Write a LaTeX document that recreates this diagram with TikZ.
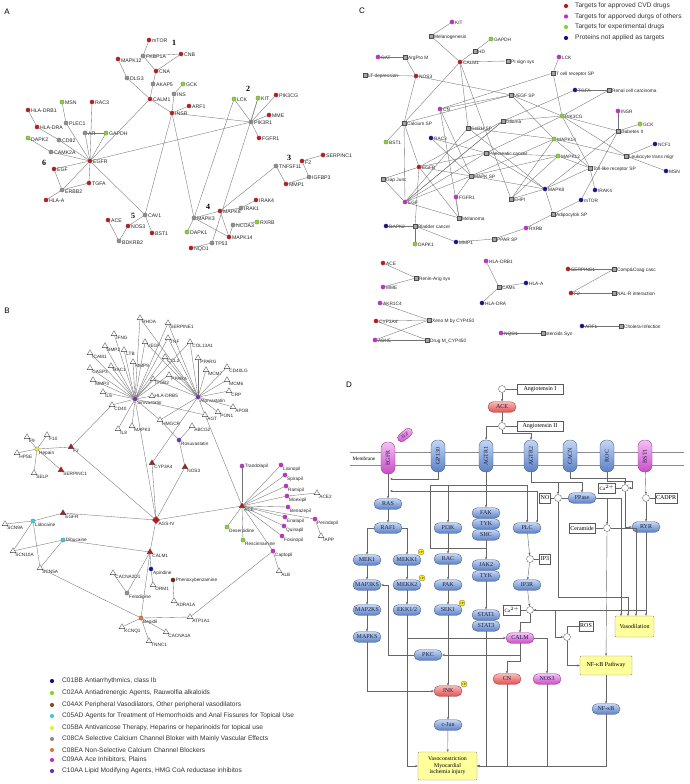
\documentclass[tikz,border=0pt]{standalone}
\usepackage{fontspec}
\newfontfamily\fsans{Liberation Sans}
\newfontfamily\fserif{Liberation Serif}
\usetikzlibrary{shapes.geometric,shapes.misc,arrows.meta}
\definecolor{cred}{HTML}{C81414}
\definecolor{cgry}{HTML}{8E8E8E}
\definecolor{cgrn}{HTML}{86D52A}
\definecolor{cblu}{HTML}{10109A}
\definecolor{cmag}{HTML}{CC2ACC}
\definecolor{cpur}{HTML}{7030C0}
\definecolor{ccya}{HTML}{3CCCDA}
\definecolor{cyel}{HTML}{EEEE30}
\definecolor{cbrn}{HTML}{7A1E10}
\definecolor{cbrl}{HTML}{8B4A20}
\definecolor{corg}{HTML}{E07838}
\definecolor{pbtop}{HTML}{C4D6F4}
\definecolor{pbbot}{HTML}{5C80C4}
\definecolor{prtop}{HTML}{F8B8B8}
\definecolor{prbot}{HTML}{E25050}
\definecolor{pmtop}{HTML}{F6C0F6}
\definecolor{pmbot}{HTML}{C84CC8}
\definecolor{ptxt}{HTML}{1A2240}
\definecolor{ybox}{HTML}{FFFF9C}
\newcommand\lfa{\fsans\fontsize{5.2}{5.5}\selectfont}
\newcommand\lfb{\fsans\fontsize{4.7}{5}\selectfont}
\newcommand\lfc{\fsans\fontsize{4.8}{5}\selectfont}
\newcommand\lfleg{\fsans\fontsize{6.6}{7}\selectfont}
\newcommand\lfd{\fserif\fontsize{6}{6.6}\selectfont}
\begin{document}
\begin{tikzpicture}[x=1pt,y=-1pt,
  dot/.style={circle,inner sep=0pt,minimum size=4.4pt,draw=black!55,line width=0.2pt},
  rdot/.style={dot,fill=cred}, ydot/.style={dot,fill=cgry}, gdot/.style={dot,fill=cgrn},
  bdot/.style={dot,fill=cblu}, mdot/.style={dot,fill=cmag}, pdot/.style={dot,fill=cpur},
  cdot/.style={dot,fill=ccya}, yedot/.style={dot,fill=cyel}, brdot/.style={dot,fill=cbrn},
  odot/.style={dot,fill=corg},
  tri/.style={regular polygon,regular polygon sides=3,draw=black!75,fill=white,inner sep=0pt,minimum size=6.5pt,line width=0.3pt},
  rtri/.style={tri,fill=cred},
  sq/.style={rectangle,draw=black!70,fill=black!35,minimum size=4.2pt,inner sep=0pt,line width=0.3pt},
  la/.style={font=\lfa,inner sep=0.6pt,text=black!85},
  lb/.style={font=\lfb,inner sep=0.4pt,text=black!85},
  lc/.style={font=\lfc,inner sep=0.6pt,text=black!85},
  lr/.style={label={[la,yshift=-1.2pt]right:#1}},
  lbr/.style={label={[lb]below right:#1}},
  lcr/.style={label={[lc,yshift=-1.2pt]right:#1}},
  ed/.style={draw=black!55,line width=0.35pt},
  num/.style={font=\fserif\bfseries\fontsize{8}{8}\selectfont,inner sep=0pt},
  plab/.style={font=\fsans\fontsize{8}{8}\selectfont,inner sep=0pt},
  pill/.style={rectangle,rounded corners=5.2pt,minimum width=28pt,minimum height=10.5pt,inner sep=0.5pt,font=\lfd,line width=0.35pt,text=ptxt},
  bp/.style={pill,top color=pbtop,bottom color=pbbot,draw=pbbot!70!black},
  rp/.style={pill,top color=prtop,bottom color=prbot,draw=prbot!70!black},
  mp/.style={pill,top color=pmtop,bottom color=pmbot,draw=pmbot!70!black},
  vb/.style={bp,rotate=90,minimum width=32pt,minimum height=14pt,rounded corners=6.5pt},
  vm/.style={mp,rotate=90,minimum width=32pt,minimum height=14pt,rounded corners=6.5pt},
  bx/.style={rectangle,draw=black!65,fill=white,font=\lfd,inner sep=1.2pt,minimum height=10pt,line width=0.35pt},
  cc/.style={circle,draw=black!65,fill=white,minimum size=7pt,inner sep=0pt,line width=0.35pt},
  yb/.style={rectangle,rounded corners=1pt,draw=black!45,fill=ybox,font=\lfd,align=center,inner sep=1pt},
  pp/.style={circle,fill=yellow,draw=black!50,minimum size=6pt,inner sep=0pt,font=\fsans\fontsize{3}{3}\selectfont},
  ln/.style={draw=black!60,line width=0.4pt},
  ar/.style={ln,-{Stealth[length=2.6pt,width=2.2pt]}},
  memb/.style={draw=black!45,line width=0.6pt}
]
\useasboundingbox (0,0) rectangle (689,784);
\fill[white] (0,0) rectangle (689,784);

% ================= Panel A =================
\node[plab] (pA) at (7,12) {A};
\node[rdot,lr=mTOR] (aMTOR) at (149,40) {};
\node[ydot,lr=FKBP1A] (aFKBP) at (143,56) {};
\node[rdot,lr=CNB] (aCNB) at (181,54) {};
\node[rdot,lr=MAPK12] (aMAPK12) at (118,59) {};
\node[rdot,lr=CNA] (aCNA) at (156,71) {};
\node[ydot,lr=DLG3] (aDLG3) at (127,78) {};
\node[ydot,lr=AKAP5] (aAKAP5) at (153,84) {};
\node[gdot,lr=GCK] (aGCK) at (183,84) {};
\node[ydot,lr=INS] (aINS) at (174,94) {};
\node[rdot,lr=CALM1] (aCALM1) at (150,99) {};
\node[rdot,lr=ARF1] (aARF1) at (189,106) {};
\node[rdot,lr=INSR] (aINSR) at (172,113) {};
\node[gdot,lr=LCK] (aLCK) at (234,99) {};
\node[gdot,lr=KIT] (aKIT) at (258,98) {};
\node[rdot,lr=PIK3CG] (aPIK3CG) at (276,95) {};
\node[rdot,lr=MME] (aMME) at (269,115) {};
\node[ydot,lr=PIK3R1] (aPIK3R1) at (251,122) {};
\node[rdot,lr=FGFR1] (aFGFR1) at (259,138) {};
\node[gdot,lr=MSN] (aMSN) at (62,102) {};
\node[rdot,lr=RAC3] (aRAC3) at (92,102) {};
\node[rdot,lr=HLA-DRB1] (aDRB1) at (28,110) {};
\node[rdot,lr=HLA-DRA] (aDRA) at (37,127) {};
\node[ydot,lr=PLEC1] (aPLEC1) at (66,123) {};
\node[ydot,lr=AR] (aAR) at (85,133) {};
\node[gdot,lr=GAPDH] (aGAPDH) at (106,133) {};
\node[gdot,lr=DAPK2] (aDAPK2) at (28,138) {};
\node[ydot,lr=CD82] (aCD82) at (59,140) {};
\node[ydot,lr=CAMK2A] (aCAMK2A) at (51,152) {};
\node[rdot,lr=EGFR] (aEGFR) at (90,161) {};
\node[rdot,lr=EGF] (aEGF) at (54,169) {};
\node[rdot,lr=TGFA] (aTGFA) at (89,183) {};
\node[ydot,lr=ERBB2] (aERBB2) at (62,190) {};
\node[rdot,lr=HLA-A] (aHLAA) at (46,200) {};
\node[ydot,lr=TNFSF11] (aTNFSF11) at (276,166) {};
\node[rdot,lr=F2] (aF2) at (302,161) {};
\node[rdot,lr=SERPINC1] (aSERPINC1) at (323,155) {};
\node[ydot,lr=IGFBP3] (aIGFBP3) at (309,177) {};
\node[rdot,lr=MMP1] (aMMP1) at (286,184) {};
\node[rdot,lr=IRAK4] (aIRAK4) at (256,200) {};
\node[ydot,lr=IRAK1] (aIRAK1) at (241,208) {};
\node[rdot,lr=MAPK8] (aMAPK8) at (220,211) {};
\node[ydot,lr=MAPK3] (aMAPK3) at (194,218) {};
\node[ydot,lr=NCOA3] (aNCOA3) at (233,225) {};
\node[gdot,lr=RXRB] (aRXRB) at (257,222) {};
\node[gdot,lr=DAPK1] (aDAPK1) at (187,232) {};
\node[rdot,lr=MAPK14] (aMAPK14) at (229,237) {};
\node[ydot,lr=TP53] (aTP53) at (212,243) {};
\node[rdot,lr=NQO1] (aNQO1) at (191,248) {};
\node[ydot,lr=CAV1] (aCAV1) at (145,215) {};
\node[rdot,lr=ACE] (aACE) at (108,220) {};
\node[rdot,lr=NOS3] (aNOS3) at (128,226) {};
\node[rdot,lr=BST1] (aBST1) at (152,233) {};
\node[ydot,lr=BDKRB2] (aBDKRB2) at (119,241) {};
\node[num] (n1) at (174,43) {1};
\node[num] (n2) at (248,89) {2};
\node[num] (n3) at (289,158) {3};
\node[num] (n4) at (208,207) {4};
\node[num] (n5) at (133,216) {5};
\node[num] (n6) at (44,163) {6};
\foreach \u/\v in {aMTOR/aFKBP,aFKBP/aCNB,aFKBP/aCNA,aCNB/aCNA,aCNA/aAKAP5,aAKAP5/aCALM1,
  aMAPK12/aDLG3,aDLG3/aCALM1,aGCK/aINS,aINS/aINSR,aCALM1/aINSR,aARF1/aINSR,aINSR/aPIK3R1,
  aCALM1/aEGFR,aINSR/aCAV1,aINSR/aMAPK3,aLCK/aPIK3R1,aKIT/aPIK3R1,aPIK3CG/aPIK3R1,aMME/aPIK3R1,
  aFGFR1/aPIK3R1,aPIK3R1/aEGFR,aLCK/aMAPK3,aKIT/aTP53,aMSN/aPLEC1,aPLEC1/aEGFR,aRAC3/aEGFR,
  aAR/aEGFR,aAR/aGAPDH,aGAPDH/aEGFR,aDRB1/aDRA,aDRA/aCD82,aCD82/aEGFR,aDAPK2/aCAMK2A,
  aCAMK2A/aEGFR,aEGF/aEGFR,aEGF/aERBB2,aERBB2/aEGFR,aTGFA/aEGFR,aTGFA/aERBB2,aERBB2/aHLAA,
  aEGFR/aCAV1,aCAV1/aNOS3,aCAV1/aBST1,aNOS3/aBDKRB2,aACE/aBDKRB2,aTNFSF11/aMAPK8,
  aTNFSF11/aMMP1,aF2/aSERPINC1,aF2/aIGFBP3,aIGFBP3/aMMP1,aMAPK8/aIRAK1,aIRAK1/aIRAK4,
  aMAPK8/aMAPK3,aMAPK8/aMAPK14,aMAPK3/aMAPK14,aMAPK3/aDAPK1,aNCOA3/aRXRB,aNCOA3/aMAPK14,
  aTP53/aNQO1}
  \draw[ed] (\u) -- (\v);

% ================= Panel B =================
\node[plab] (pB) at (7,311) {B};
\node[pdot,lbr=Simvastatin] (bSIM) at (135,399) {};
\node[pdot,lbr=Atorvastatin] (bATO) at (198,397) {};
\node[pdot,lbr=Rosuvastatin] (bROS) at (179,440) {};
\node[tri,lbr=RHOA] (bRHOA) at (140,318) {};
\node[tri,lbr=SERPINE1] (bSERPINE1) at (168,323) {};
\node[tri,lbr=IFNG] (bIFNG) at (114,334) {};
\node[tri,lbr=TNF] (bTNF) at (168,338) {};
\node[tri,lbr=BMP2] (bBMP2) at (105,346) {};
\node[tri,lbr=VEGF] (bVEGF) at (145,342) {};
\node[tri,lbr=COL13A1] (bCOL) at (190,342) {};
\node[tri,lbr=LTB] (bLTB) at (124,350) {};
\node[tri,lbr=ICAM1] (bICAM1) at (90,353) {};
\node[tri,lbr=CCL2] (bCCL2) at (165,357) {};
\node[tri,lbr=MMP9] (bMMP9) at (133,362) {};
\node[tri,lbr=PPARG] (bPPARG) at (198,358) {};
\node[tri,lbr=RAC1] (bRAC1) at (111,366) {};
\node[tri,lbr=CASP3] (bCASP3) at (90,368) {};
\node[tri,lbr=CD40LG] (bCD40LG) at (227,367) {};
\node[tri,lbr=MCM7] (bMCM7) at (206,370) {};
\node[tri,lbr=ITGB2] (bITGB2) at (153,379) {};
\node[tri,lbr=PPARA] (bPPARA) at (169,375) {};
\node[tri,lbr=MMP3] (bMMP3) at (93,380) {};
\node[tri,lbr=MCM6] (bMCM6) at (227,380) {};
\node[tri,lbr=IL6] (bIL6) at (103,392) {};
\node[tri,lbr=CRP] (bCRP) at (229,391) {};
\node[tri,label={[lb]right:HLA-DRB5}] (bDRB5) at (152,396) {};
\node[tri,lbr=CD40] (bCD40) at (112,405) {};
\node[tri,lbr=APOB] (bAPOB) at (233,407) {};
\node[tri,lbr=PON1] (bPON1) at (218,412) {};
\node[tri,lbr=AGT] (bAGT) at (205,415) {};
\node[tri,lbr=HMGCR] (bHMGCR) at (160,420) {};
\node[tri,lbr=ABCG2] (bABCG2) at (192,426) {};
\node[tri,lbr=IL8] (bIL8) at (118,429) {};
\node[tri,lbr=MAPK3] (bMAPK3) at (132,426) {};
\node[tri,lbr=F9] (bF9) at (27,437) {};
\node[tri,lbr=F10] (bF10) at (47,435) {};
\node[tri,lbr=HPSE] (bHPSE) at (17,453) {};
\node[tri,lbr=SELP] (bSELP) at (34,473) {};
\node[yedot,lbr=Hepain] (bHEP) at (37,449) {};
\node[rtri,lbr=F2] (bF2) at (71,447) {};
\node[rtri,lbr=SERPINC1] (bSERPINC1) at (61,470) {};
\node[rtri,lbr=CYP3A4] (bCYP) at (152,463) {};
\node[rtri,lbr=NOS3] (bNOS3) at (185,467) {};
\node[mdot,label={[lb]right:Trandolapil}] (bTRA) at (242,466) {};
\node[mdot,lbr=Lisinopil] (bLIS) at (281,465) {};
\node[mdot,lbr=Spirapil] (bSPI) at (285,475) {};
\node[mdot,lbr=Ramipil] (bRAM) at (286,486) {};
\node[mdot,lbr=Moexipil] (bMOE) at (287,496) {};
\node[tri,lbr=ACE2] (bACE2) at (317,493) {};
\node[rtri,lbr=ACE] (bACE) at (242,506) {};
\node[mdot,lbr=Benazepil] (bBEN) at (288,507) {};
\node[mdot,lbr=Enalapil] (bENA) at (285,517) {};
\node[mdot,lbr=Perindopil] (bPER) at (315,519) {};
\node[mdot,lbr=Quinapil] (bQUI) at (284,526) {};
\node[mdot,lbr=Fosinopil] (bFOS) at (282,536) {};
\node[tri,lbr=IAPP] (bIAPP) at (321,536) {};
\node[gdot,lbr=Deserpidine] (bDES) at (227,527) {};
\node[gdot,lbr=Rescinnamine] (bRES) at (243,540) {};
\node[diamond,fill=cred,draw=black!60,inner sep=0pt,minimum size=7.5pt,lbr=AGS-IV] (bAGS) at (156,520) {};
\node[rtri,lbr=EGFR] (bEGFR) at (63,513) {};
\node[cdot,lbr=Lidocaine] (bLID) at (33,521) {};
\node[tri,lbr=SCN9A] (bSCN9A) at (5,524) {};
\node[cdot,label={[lb]right:Dibucaine}] (bDIB) at (63,540) {};
\node[tri,lbr=SCN10A] (bSCN10A) at (13,551) {};
\node[rtri,lbr=CALM1] (bCALM1) at (150,552) {};
\node[tri,lbr=SCN5A] (bSCN5A) at (40,568) {};
\node[bdot,lbr=Apindine] (bAPI) at (151,569) {};
\node[brdot,label={[lb]right:Phenoxybenzamine}] (bPHE) at (173,580) {};
\node[tri,lbr=CACNA2D1] (bCAC2) at (113,573) {};
\node[tri,lbr=ORM1] (bORM1) at (153,585) {};
\node[ydot,lbr=Felodipine] (bFEL) at (127,593) {};
\node[tri,lbr=ADRA1A] (bADRA) at (174,601) {};
\node[mdot,lbr=Captopil] (bCAP) at (273,551) {};
\node[tri,lbr=ALB] (bALB) at (279,571) {};
\node[odot,lbr=Bepidil] (bBEP) at (141,618) {};
\node[tri,lbr=ATP1A1] (bATP) at (190,617) {};
\node[tri,lbr=KCNQ1] (bKCNQ1) at (122,627) {};
\node[tri,lbr=CACNA1A] (bCAC1A) at (166,632) {};
\node[tri,lbr=TNNC1] (bTNNC1) at (149,641) {};
\foreach \t in {bRHOA,bSERPINE1,bIFNG,bTNF,bBMP2,bVEGF,bLTB,bICAM1,bCCL2,bMMP9,bRAC1,bCASP3,
  bITGB2,bPPARA,bMMP3,bIL6,bCD40,bIL8,bMAPK3,bDRB5,bHMGCR,bAGT,bCOL}
  \draw[ed] (bSIM) -- (\t);
\foreach \t in {bRHOA,bSERPINE1,bTNF,bVEGF,bCCL2,bCOL,bPPARG,bMCM7,bCD40LG,bMCM6,bCRP,
  bPPARA,bPON1,bAGT,bHMGCR,bITGB2,bAPOB,bCYP}
  \draw[ed] (bATO) -- (\t);
\foreach \t in {bTRA,bLIS,bSPI,bRAM,bMOE,bBEN,bENA,bPER,bQUI,bFOS,bDES,bRES,bCAP,bAGT,bAGS}
  \draw[ed] (bACE) -- (\t);
\foreach \t in {bF9,bF10,bHPSE,bSELP,bF2,bSERPINC1}
  \draw[ed] (bHEP) -- (\t);
\foreach \t in {bATP,bKCNQ1,bCAC1A,bTNNC1,bSCN5A,bCALM1}
  \draw[ed] (bBEP) -- (\t);
\foreach \u/\v in {bCD40/bF2,bSIM/bAGS,bCYP/bAGS,bHMGCR/bROS,bABCG2/bROS,bROS/bNOS3,bNOS3/bAGS,
  bF2/bAGS,bEGFR/bAGS,bEGFR/bLID,bLID/bSCN9A,bLID/bSCN10A,bLID/bSCN5A,bDIB/bSCN10A,
  bDIB/bSCN5A,bDIB/bCALM1,bAGS/bCALM1,bCALM1/bAPI,bCALM1/bFEL,bFEL/bCAC2,bAPI/bORM1,
  bPHE/bADRA,bATP/bCAP,bCAP/bALB,bMOE/bACE2,bPER/bIAPP}
  \draw[ed] (\u) -- (\v);
% legend B
\foreach \c/\t/\yy [count=\i] in {cblu/C01BB Antiarrhythmics{,} class Ib/681,
  cgrn/C02AA Antiadrenergic Agents{,} Rauwolfia alkaloids/693,
  cbrl/C04AX Peripheral Vasodilators{,} Other peripheral vasodilators/705,
  ccya/C05AD Agents for Treatment of Hemorrhoids and Anal Fissures for Topical Use/716,
  cyel/C05BA Antivaricose Therapy{,} Heparins or heparinoids for topical use/728,
  cgry/C08CA Selective Calcium Channel Bloker with Mainly Vascular Effects/739,
  corg/C08EA Non-Selective Calcium Channel Blockers/750,
  cmag/C09AA Ace Inhibitors{,} Plains/760,
  cpur/C10AA Lipid Modifying Agents{,} HMG CoA reductase inhibitos/771}
  {\node[dot,fill=\c,draw=none,minimum size=4.2pt] (lgb\i) at (52,\yy) {};
   \node[font=\lfleg,anchor=west,inner sep=0pt,text=black!80] (lgbt\i) at (62,\yy) {\t};}

% ================= Panel C =================
\node[plab] (pC) at (362,11) {C};
\foreach \c/\t/\yy [count=\i] in {cred/Targets for approved CVD drugs/6,
  cmag/Targets for apporved durgs of others/16.5,
  cgrn/Targets for experimental drugs/27,
  cblu/Proteins not applied as targets/38}
  {\node[dot,fill=\c,draw=none,minimum size=4.2pt] (lgc\i) at (566,\yy) {};
   \node[font=\lfleg,anchor=west,inner sep=0pt,text=black!80] (lgct\i) at (575,\yy) {\t};}
\node[mdot,lcr=KIT] (cKIT) at (452,22) {};
\node[sq,lcr=Melanogenesis] (cMel) at (431,36) {};
\node[gdot,lcr=GAPDH] (cGAPDH) at (491,39) {};
\node[sq,lcr=HD] (cHD) at (475,51) {};
\node[mdot,lcr=OAT] (cOAT) at (378,57) {};
\node[sq,lcr=ArgPro M] (cArg) at (405,57) {};
\node[rdot,lcr=CALM1] (cCALM1) at (460,62) {};
\node[sq,lcr=PI sign sys] (cPI) at (508,61) {};
\node[mdot,lcr=LCK] (cLCK) at (559,57) {};
\node[sq,lcr=LT depression] (cLT) at (365,75) {};
\node[rdot,lcr=NOS3] (cNOS3) at (416,76) {};
\node[sq,lcr=T cell receptor SP] (cTcell) at (553,73) {};
\node[bdot,lcr=TGFA] (cTGFA) at (575,90) {};
\node[sq,lcr=Renal cell carcinoma] (cRenal) at (609,90) {};
\node[sq,lcr=VEGF SP] (cVEGF) at (511,95) {};
\node[mdot,lcr=CN] (cCN) at (440,109) {};
\node[mdot,lcr=INSR] (cINSR) at (618,111) {};
\node[gdot,lcr=PIK3CG] (cPIK3CG) at (562,116) {};
\node[sq,lcr=Glioma] (cGlioma) at (503,121) {};
\node[sq,lcr=Calcium SP] (cCal) at (404,123) {};
\node[gdot,lcr=GCK] (cGCK) at (640,124) {};
\node[sq,lcr=GnRH SP] (cGnRH) at (468,128) {};
\node[sq,lcr=diabetes II] (cDiab) at (618,131) {};
\node[gdot,lcr=BST1] (cBST1) at (386,142) {};
\node[bdot,lcr=RAC3] (cRAC3) at (431,138) {};
\node[gdot,lcr=MAPK14] (cMAPK14) at (554,139) {};
\node[bdot,lcr=NCF1] (cNCF1) at (655,144) {};
\node[sq,lcr=Pancreatic cancer] (cPanc) at (486,153) {};
\node[gdot,lcr=MAPK12] (cMAPK12) at (558,156) {};
\node[sq,lcr=Leukocyte trans migr] (cLeuko) at (626,156) {};
\node[rdot,lcr=EGFR] (cEGFR) at (419,167) {};
\node[sq,lcr=Toll-like receptor SP] (cToll) at (590,168) {};
\node[bdot,lcr=MSN] (cMSN) at (666,171) {};
\node[sq,lcr=Gap Junc] (cGap) at (383,179) {};
\node[sq,lcr=MAPK SP] (cMAPKSP) at (471,176) {};
\node[bdot,lcr=MAPK8] (cMAPK8) at (545,189) {};
\node[bdot,lcr=IRAK4] (cIRAK4) at (595,190) {};
\node[mdot,lcr=FGFR1] (cFGFR1) at (456,197) {};
\node[mdot,lcr=EGF] (cEGF) at (405,202) {};
\node[sq,lcr=EHPI] (cEHPI) at (511,199) {};
\node[bdot,lcr=mTOR] (cmTOR) at (581,200) {};
\node[sq,lcr=Melanoma] (cMelan) at (459,218) {};
\node[sq,lcr=Adipocytok SP] (cAdipo) at (553,214) {};
\node[bdot,lcr=DAPK2] (cDAPK2) at (386,226) {};
\node[sq,lcr=Bladder cancer] (cBlad) at (415,226) {};
\node[mdot,lcr=RXRB] (cRXRB) at (526,228) {};
\node[sq,lcr=PPAR SP] (cPPAR) at (494,239) {};
\node[bdot,lcr=MMP1] (cMMP1) at (456,242) {};
\node[gdot,lcr=DAPK1] (cDAPK1) at (415,244) {};
\foreach \u/\v in {cKIT/cMel,cMel/cCALM1,cGAPDH/cHD,cHD/cCALM1,cOAT/cArg,cArg/cNOS3,cLT/cNOS3,
  cCALM1/cPI,cLCK/cTcell,cTGFA/cRenal,cNOS3/cCal,cNOS3/cVEGF,cCALM1/cCal,cCALM1/cGnRH,
  cCALM1/cEHPI,cTcell/cCN,cTcell/cPIK3CG,cVEGF/cCN,cVEGF/cPIK3CG,cVEGF/cMAPK14,cVEGF/cCal,
  cTGFA/cGlioma,cRenal/cPIK3CG,cPIK3CG/cGlioma,cPIK3CG/cDiab,cPIK3CG/cPanc,cPIK3CG/cLeuko,
  cPIK3CG/cToll,cINSR/cDiab,cGCK/cDiab,cDiab/cmTOR,cDiab/cMAPK8,cMAPK14/cLeuko,cNCF1/cLeuko,
  cMSN/cLeuko,cToll/cMAPK14,cToll/cMAPK12,cToll/cMAPK8,cToll/cIRAK4,cMAPKSP/cMAPK8,
  cMAPKSP/cEGFR,cMAPKSP/cRAC3,cMAPKSP/cMAPK14,cMAPKSP/cMAPK12,cMAPKSP/cFGFR1,cMAPKSP/cEGF,
  cMAPKSP/cCN,cPanc/cEGFR,cPanc/cRAC3,cPanc/cMAPK8,cPanc/cMAPK12,cGap/cEGFR,cEGFR/cGlioma,
  cEGFR/cMelan,cEGFR/cBlad,cEGF/cGlioma,cEGF/cPanc,cEGF/cMelan,cEGF/cGap,cFGFR1/cMelan,
  cDAPK2/cBlad,cDAPK1/cBlad,cBlad/cMMP1,cMMP1/cPPAR,cPPAR/cRXRB,cRXRB/cAdipo,cAdipo/cmTOR,
  cAdipo/cMAPK8,cEHPI/cMAPK8,cEHPI/cMAPK14,cEHPI/cMAPK12,cBST1/cCal,cCal/cEGFR,cGnRH/cMAPK14,
  cGnRH/cMAPK8,cGnRH/cEGF,cCal/cEGF,cCN/cMelan,cGlioma/cEGF}
  \draw[ed] (\u) -- (\v);
% lower C
\node[rdot,lcr=ACE] (cACE) at (383,263) {};
\node[sq,lcr=Renin-Ang sys] (cRen) at (416,278) {};
\node[mdot,lcr=MME] (cMME) at (383,287) {};
\node[mdot,lcr=HLA-DRB1] (cDRB1) at (486,261) {};
\node[sq,lcr=CAMs] (cCAMs) at (499,287) {};
\node[bdot,lcr=HLA-A] (cHLAA) at (526,283) {};
\node[bdot,lcr=HLA-DRA] (cDRA) at (482,303) {};
\node[rdot,lcr=SERPINC1] (cSERP) at (568,269) {};
\node[sq,lcr=Comp\&Coag casc] (cComp) at (614,269) {};
\node[rdot,lcr=F2] (cF2) at (571,293) {};
\node[sq,lcr=NAL-R interaction] (cNAL) at (614,293) {};
\node[mdot,lcr=AKR1C4] (cAKR) at (380,303) {};
\node[rdot,lcr=CYP3A4] (cCYP) at (376,321) {};
\node[sq,lcr=Xeno M by CYP450] (cXeno) at (429,320) {};
\node[mdot,lcr=ADH5] (cADH5) at (375,340) {};
\node[sq,lcr=Drug M\_CYP450] (cDrug) at (427,340) {};
\node[mdot,lcr=NQO1] (cNQO1) at (501,333) {};
\node[sq,lcr=steroids Syn] (cSter) at (543,333) {};
\node[bdot,lcr=ARF1] (cARF1) at (582,326) {};
\node[sq,lcr=Cholera-Infection] (cChol) at (621,326) {};
\foreach \u/\v in {cACE/cRen,cMME/cRen,cDRB1/cCAMs,cHLAA/cCAMs,cDRA/cCAMs,cSERP/cComp,
  cF2/cComp,cF2/cNAL,cAKR/cXeno,cCYP/cXeno,cCYP/cDrug,cADH5/cXeno,cADH5/cDrug,cNQO1/cSter,
  cARF1/cChol}
  \draw[ed] (\u) -- (\v);

% ================= Panel D =================
\node[plab] (pD) at (349,385) {D};
\draw[memb] (350,452) -- (684,452);
\draw[memb] (350,465) -- (684,465);
\node[font=\fserif\fontsize{5.2}{5.5}\selectfont,fill=white,inner sep=0.3pt] (dMem) at (364,458.5) {Membrane};
\node[bx,minimum width=46pt] (dAngI) at (540,389) {Angiotensin I};
\node[cc] (dC1) at (502,389) {};
\node[rp] (dACE) at (502,407) {ACE};
\node[cc] (dC2) at (502,426) {};
\node[bx,minimum width=46pt] (dAngII) at (540,426) {Angiotensin II};
\node[vm] (dEGFR) at (388,458) {EGFR};
\node[mp,rotate=40,minimum width=17pt,minimum height=8pt,rounded corners=4pt,inner sep=0.2pt,font=\fserif\fontsize{4.3}{5}\selectfont] (dEGF) at (405,435) {EGF};
\node[vb] (dGP130) at (438,456) {GP130};
\node[vb] (dAGTR1) at (486,456) {AGTR1};
\node[vb] (dAGTR2) at (531,456) {AGTR2};
\node[vb] (dCACN) at (570,456) {CACN};
\node[vb] (dROC) at (607,456) {ROC};
\node[vm] (dBST1) at (645,456) {BST1};
\node[bp] (dRAS) at (388,504) {RAS};
\node[bp] (dRAF1) at (388,528) {RAF1};
\node[bp] (dPI3K) at (448,528) {PI3K};
\node[bp] (dFAK) at (486,513) {FAK};
\node[bp] (dTYK1) at (486,524) {TYK};
\node[bp] (dSHC) at (486,535) {SHC};
\node[bp] (dPLC) at (527,528) {PLC};
\node[bp] (dPPase) at (582,498) {PPase};
\node[bp] (dRYR) at (646,527) {RYR};
\node[bp] (dMEK1) at (367,560) {MEK1};
\node[bp] (dMEKK1) at (407,560) {MEKK1};
\node[bp] (dRAC) at (448,559) {RAC};
\node[bp] (dJAK2) at (486,565) {JAK2};
\node[bp] (dTYK2) at (486,576) {TYK};
\node[bp] (dMAP3KS) at (367,585) {MAP3KS};
\node[bp] (dMEKK2) at (407,585) {MEKK2};
\node[bp] (dPAK) at (448,585) {PAK};
\node[bp] (dIP3R) at (527,585) {IP3R};
\node[bp] (dMAP2KS) at (367,610) {MAP2KS};
\node[bp] (dEKK) at (407,610) {EKK1/2};
\node[bp] (dSEK1) at (448,610) {SEK1};
\node[bp] (dSTAT1) at (486,615) {STAT1};
\node[bp] (dSTAT3) at (486,626) {STAT3};
\node[bp] (dMAPKS) at (367,637) {MAPKS};
\node[mp] (dCALM) at (520,638) {CALM};
\node[bp] (dPKC) at (428,655) {PKC};
\node[rp] (dCN) at (507,679) {CN};
\node[mp] (dNOS3) at (547,679) {NOS3};
\node[rp] (dJNK) at (448,691) {JNK};
\node[bp] (dNFkB) at (606,709) {NF-κB};
\node[bp] (dcJun) at (448,725) {c-Jun};
\node[pp] (dP1) at (421,552) {+P};
\node[pp] (dP2) at (422,578) {+P};
\node[pp] (dP3) at (462,603) {+P};
\node[pp] (dP4) at (464,684) {+P};
\node[bx,font=\fserif\fontsize{5}{5}\selectfont] (dCa1) at (607,488) {Ca$^{2+}$};
\node[cc] (dCa1c) at (625,488) {};
\node[bx] (dNO) at (545,498) {NO};
\node[cc] (dNOc) at (558,498) {};
\node[cc] (dCADc) at (646,498) {};
\node[bx] (dCADPR) at (666,498) {CADPR};
\node[bx] (dCer) at (582,528) {Ceramide};
\node[cc] (dCerc) at (607,528) {};
\node[cc] (dIP3c) at (530,559) {};
\node[bx] (dIP3) at (545,559) {IP3};
\node[bx,font=\fserif\fontsize{5}{5}\selectfont] (dCa2) at (512,610) {Ca$^{2+}$};
\node[cc] (dCa2c) at (530,610) {};
\node[cc] (dROSc) at (567,637) {};
\node[bx] (dROS) at (586,626) {ROS};
\node[yb,minimum width=39pt,minimum height=21pt] (dVaso) at (634.5,626.5) {Vasodilation};
\node[yb,minimum width=52pt,minimum height=19pt] (dNFP) at (606,665.5) {NF-κB Pathway};
\node[yb,minimum width=59pt,minimum height=28pt,font=\fserif\fontsize{5.8}{6.4}\selectfont] (dVC) at (447.5,766) {Vasoconstriction\\Myocardial\\ischemia injury};
% connectors D
\draw[ln] (dAngI) -- (dC1);
\draw[ar] (dC1) -- (dACE);
\draw[ar] (dACE) -- (dC2);
\draw[ln] (dC2) -- (dAngII);
\draw[ar] (dC2) -| (dAGTR1);
\draw[ar] (dC2) |- (531,433) -- (dAGTR2);
\draw[ar] (dGP130) |- (390,479);
\draw[ar] (dEGFR) -- (dRAS);
\draw[ar] (dAGTR1) -- (dFAK);
\draw[ar] (486,485) -| (dPI3K);
\draw[ar] (486,485) -| (dPLC);
\draw[ar] (537,491) -- (390,491);
\draw[ar] (537,491) -- (537,522.7);
\draw[ln] (486,485) -| (430,548) -- (486,548);
\draw[ar] (dRAS) -- (dRAF1);
\draw[ar] (dRAF1) -| (dMEK1);
\draw[ar] (dRAF1) -| (dMEKK1);
\draw[ar] (dMEK1) -- (dMAP3KS);
\draw[ar] (dMAP3KS) -- (dMAP2KS);
\draw[ar] (dMAP2KS) -- (dMAPKS);
\draw[ar] (dMEKK1) -- (dMEKK2);
\draw[ar] (dMEKK2) -- (dEKK);
\draw[ar] (dPI3K) -- (dRAC);
\draw[ar] (dRAC) -- (dPAK);
\draw[ar] (dPAK) -- (dSEK1);
\draw[ar] (dSEK1) -- (dJNK);
\draw[ar] (dJNK) -- (dcJun);
\draw[ar] (dcJun) -- (dVC);
\draw[ar] (dSHC) -- (dJAK2);
\draw[ar] (dTYK2) -- (dSTAT1);
\draw[ar] (dSTAT3) |- (dVC);
\draw[ar] (dCN) |- (dVC);
\draw[ar] (dNOS3) |- (dVC);
\draw[ar] (dNFkB) |- (dVC);
\draw[ar] (dEKK) |- (dVC);
\draw[ar] (dEKK.south |- dCALM) -- (dCALM);
\draw[ar] (dMAPKS) |- (dJNK);
\draw[ar] (dPLC) -- (dIP3c);
\draw[ar] (dIP3c) -- (dIP3R);
\draw[ln] (dIP3c) -- (dIP3);
\draw[ar] (dIP3R) -- (dCa2c);
\draw[ln] (dCa2) -- (dCa2c);
\draw[ar] (dCa2c) -- (530,622) -| (dCALM);
\draw[ar] (dCa2c) -| (555,637) -- (dROSc);
\draw[ln] (dROSc) |- (dROS);
\draw[ar] (dROSc) |- (dNFP);
\draw[ar] (dNFP) -- (dNFkB);
\draw[ar] (dCALM) -| (dNOS3);
\draw[ar] (dCALM) -- (520,661) -| (dCN);
\draw[ar] (520,655) -- (dPKC);
\draw[ar] (dPKC) -| (388,585) -- (dMAP3KS);
\draw[ar] (dCACN) |- (625,478) -- (dCa1c);
\draw[ar] (dROC) |- (632,481) |- (dCa1c);
\draw[ln] (dCa1) -- (dCa1c);
\draw[ar] (dCa1c) |- (dRYR);
\draw[ar] (dBST1) -- (dCADc);
\draw[ln] (dCADc) -- (dCADPR);
\draw[ar] (dCADc) -- (dRYR);
\draw[ar] (dRYR) -- (dRYR |- dVaso.north);
\draw[ar] (dRYR.south |- dCa2c) -- (dCa2c);
\draw[ln] (dAGTR2) |- (582,482);
\draw[ar] (582,482) -- (dPPase);
\draw[ar] (558,482) -- (dNOc);
\draw[ln] (dNO) -- (dNOc) -- (dPPase);
\draw[ar] (dNOc) |- (628,597) -- (628,616);
\draw[ar] (dPPase) -| (621,616);
\draw[ar] (607,498) -- (dCerc);
\draw[ln] (dCer) -- (dCerc);
\draw[ar] (dCerc) -- (dNFP);
\draw[ar] (dCerc) -| (636,616);
\end{tikzpicture}
\end{document}
